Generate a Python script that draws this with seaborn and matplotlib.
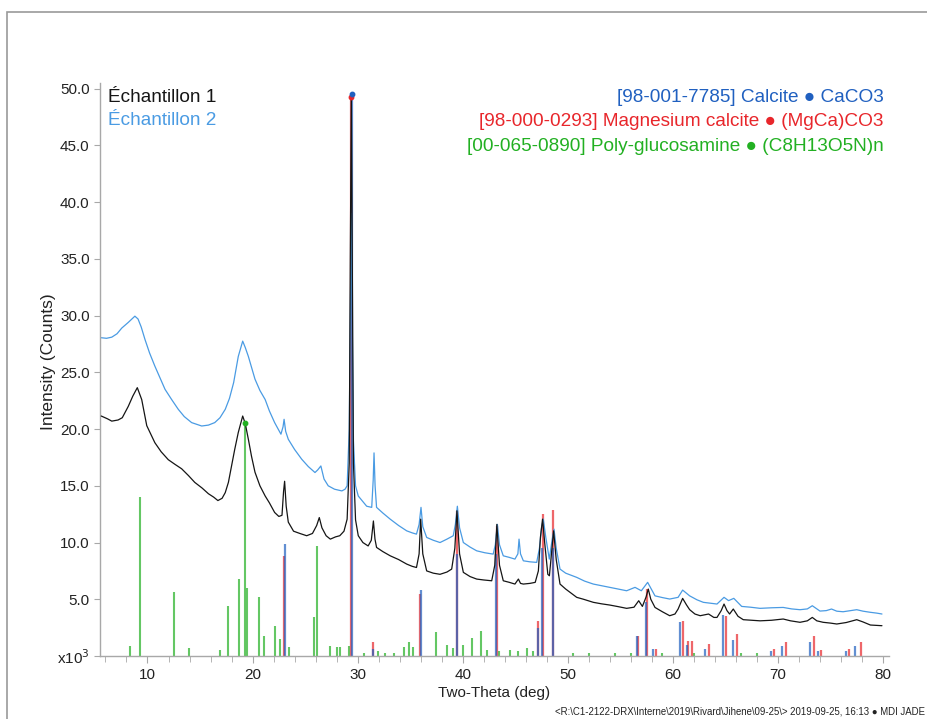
import matplotlib
matplotlib.use("Agg")
import matplotlib.pyplot as plt
import matplotlib.patches as patches
import seaborn as sns
import numpy as np
import pandas as pd

# ---------------- data ----------------
s1_theta = [5.6, 6.2, 6.6, 7.2, 7.6, 8.17, 8.6, 9.03, 9.45, 9.93, 10.7, 11.3, 11.98, 12.6, 13.25,
            13.9, 14.5, 15.2, 15.8, 16.3, 16.7, 17.1, 17.4, 17.7, 18.0, 18.3, 18.64, 18.9, 19.06,
            19.3, 19.6, 19.9, 20.23, 20.7, 21.2, 21.6, 22.1, 22.5, 22.8, 22.95, 23.05, 23.2, 23.4,
            23.9, 24.5, 25.15, 25.7, 26.1, 26.35, 26.6, 27.0, 27.4, 27.9, 28.3, 28.7, 29.0, 29.2,
            29.3, 29.4, 29.5, 29.6, 29.8, 30.06, 30.5, 31.0, 31.3, 31.5, 31.65, 31.8, 32.4, 33.1,
            33.9, 34.67, 35.2, 35.6, 35.85, 36.0, 36.2, 36.57, 37.2, 37.84, 38.5, 38.95, 39.25,
            39.45, 39.7, 40.06, 40.7, 41.33, 42.0, 42.76, 43.05, 43.25, 43.5, 43.86, 44.4, 44.97,
            45.3, 45.5, 45.77, 46.4, 46.9, 47.2, 47.4, 47.6, 47.8, 48.1, 48.25, 48.45, 48.65, 48.9,
            49.26, 49.8, 50.85, 51.5, 52.43, 53.2, 54.0, 54.8, 55.6, 56.3, 56.75, 57.1, 57.45,
            57.66, 57.9, 58.3, 59.0, 59.7, 60.2, 60.5, 60.93, 61.3, 61.6, 62.1, 62.6, 63.4, 63.9,
            64.2, 64.6, 64.87, 65.15, 65.4, 65.75, 66.2, 66.7, 67.5, 68.3, 69.4, 70.5, 71.2, 72.1,
            72.8, 73.27, 73.7, 74.3, 75.0, 75.6, 76.5, 77.5, 78.1, 78.8, 79.4, 79.9]
s1_counts = [21.15, 20.9, 20.7, 20.8, 21.0, 22.0, 22.9, 23.65, 22.6, 20.3, 18.8, 18.0, 17.3, 16.9,
             16.5, 15.9, 15.3, 14.8, 14.3, 14.0, 13.7, 13.9, 14.4, 15.3, 16.75, 18.2, 19.7, 20.6,
             21.15, 20.5, 19.1, 17.6, 16.2, 15.0, 14.1, 13.5, 12.65, 12.3, 12.4, 14.5, 15.4, 13.2,
             11.8, 11.0, 10.8, 10.6, 10.8, 11.5, 12.2, 11.3, 10.6, 10.3, 10.5, 10.6, 11.0, 12.06,
             17.0, 35.0, 49.3, 33.0, 17.0, 12.0, 10.6, 10.0, 9.7, 10.2, 11.9, 10.3, 9.57, 9.2,
             8.83, 8.5, 8.1, 7.9, 7.8, 9.0, 12.06, 9.0, 7.5, 7.3, 7.2, 7.4, 7.66, 9.5, 12.8, 9.0,
             7.37, 7.0, 6.78, 6.7, 6.63, 8.0, 11.6, 8.0, 6.63, 6.5, 6.34, 6.78, 6.4, 6.34, 6.4,
             6.49, 7.5, 10.5, 12.06, 10.0, 7.2, 7.07, 9.0, 11.03, 8.5, 6.34, 5.9, 5.17, 5.0, 4.73,
             4.6, 4.49, 4.35, 4.2, 4.3, 4.87, 4.37, 5.2, 5.9, 5.0, 4.28, 3.9, 3.55, 3.7, 4.14,
             5.08, 4.5, 4.08, 3.7, 3.55, 3.7, 3.4, 3.4, 4.0, 4.58, 4.0, 3.7, 4.14, 3.5, 3.2, 3.15,
             3.1, 3.15, 3.26, 3.1, 2.97, 3.1, 3.4, 3.1, 2.97, 2.9, 2.82, 2.95, 3.2, 3.0, 2.73,
             2.7, 2.67]

s2_theta = [5.6, 6.1, 6.6, 7.1, 7.55, 8.17, 8.8, 9.1, 9.4, 9.76, 10.2, 10.7, 11.2, 11.67, 12.3,
            12.93, 13.5, 14.2, 15.16, 15.8, 16.4, 16.9, 17.4, 17.8, 18.2, 18.64, 19.06, 19.3,
            19.6, 20.23, 20.7, 21.2, 21.6, 22.1, 22.7, 22.9, 23.0, 23.15, 23.4, 24.0, 24.68,
            25.3, 25.94, 26.2, 26.5, 26.8, 27.2, 27.8, 28.5, 28.8, 29.0, 29.2, 29.3, 29.4, 29.5,
            29.6, 29.8, 30.06, 30.5, 30.86, 31.34, 31.48, 31.56, 31.66, 31.8, 32.4, 33.1, 33.9,
            34.67, 35.2, 35.6, 35.85, 36.03, 36.2, 36.57, 37.2, 37.84, 38.5, 39.1, 39.3, 39.49,
            39.7, 40.06, 40.7, 41.33, 42.1, 42.9, 43.1, 43.3, 43.5, 43.86, 44.4, 44.97, 45.25,
            45.36, 45.5, 45.77, 46.4, 47.04, 47.3, 47.5, 47.67, 47.9, 48.24, 48.5, 48.69, 48.9,
            49.26, 49.8, 50.85, 51.6, 52.43, 53.2, 54.0, 54.8, 55.6, 56.4, 57.0, 57.6, 58.3, 59.0,
            59.7, 60.5, 60.93, 61.6, 62.3, 62.9, 63.6, 64.2, 64.87, 65.3, 65.8, 66.55, 67.4, 68.3,
            69.4, 70.5, 71.3, 72.1, 72.8, 73.27, 74.0, 74.6, 75.1, 75.6, 76.2, 76.9, 77.5, 78.1,
            78.8, 79.4, 79.9]
s2_counts = [28.05, 28.0, 28.1, 28.4, 28.9, 29.4, 29.95, 29.7, 29.0, 27.9, 26.7, 25.55, 24.5,
             23.5, 22.6, 21.74, 21.1, 20.57, 20.27, 20.35, 20.57, 21.0, 21.74, 22.7, 24.1, 26.4,
             27.75, 27.2, 26.4, 24.4, 23.4, 22.6, 21.6, 20.57, 19.55, 20.2, 20.86, 19.8, 19.1,
             18.2, 17.34, 16.7, 16.17, 16.4, 16.75, 15.6, 15.0, 14.7, 14.55, 14.7, 15.0, 20.0,
             30.0, 39.0, 28.0, 19.0, 15.0, 14.1, 13.6, 13.2, 13.1, 15.5, 17.9, 15.0, 13.1, 12.6,
             12.06, 11.5, 11.03, 10.85, 10.74, 11.6, 13.1, 11.4, 10.45, 10.2, 10.0, 10.3, 10.6,
             11.6, 13.2, 11.3, 10.0, 9.6, 9.27, 9.1, 8.98, 9.8, 11.6, 9.8, 8.83, 8.7, 8.54, 9.0,
             10.3, 9.0, 8.39, 8.3, 8.25, 9.5, 11.3, 12.06, 10.5, 8.54, 10.2, 11.18, 9.5, 7.66,
             7.3, 6.93, 6.6, 6.34, 6.2, 6.05, 5.9, 5.75, 6.05, 5.75, 6.49, 5.3, 5.15, 5.02, 5.17,
             5.81, 5.3, 4.95, 4.73, 4.65, 4.58, 5.17, 4.88, 5.08, 4.37, 4.3, 4.2, 4.25, 4.28,
             4.15, 4.08, 4.15, 4.43, 3.96, 4.0, 4.14, 3.95, 3.9, 4.0, 4.08, 3.95, 3.85, 3.78, 3.7]

calcite_pos = [23.1, 29.47, 31.5, 36.0, 39.45, 43.2, 47.15, 47.55, 48.55, 56.6, 57.45, 58.1,
               60.68, 61.35, 63.1, 64.75, 65.7, 69.3, 70.4, 73.05, 73.8, 76.5, 77.35]
calcite_int = [9.9, 49.5, 0.6, 5.8, 9.0, 9.0, 2.5, 9.5, 9.5, 1.8, 4.8, 0.6,
               3.0, 1.0, 0.6, 3.6, 1.4, 0.4, 0.9, 1.2, 0.4, 0.4, 0.9]

mgcalcite_pos = [22.95, 29.33, 31.43, 35.95, 39.42, 43.22, 47.2, 47.62, 48.62, 56.7, 57.57, 58.4,
                 60.93, 61.47, 61.8, 63.4, 65.03, 66.13, 69.65, 70.77, 73.43, 74.1, 76.8, 77.9]
mgcalcite_int = [8.8, 49.3, 1.2, 5.5, 12.8, 11.5, 3.1, 12.5, 12.9, 1.8, 5.9, 0.6,
                 3.1, 1.35, 1.35, 1.05, 3.55, 1.94, 0.6, 1.2, 1.73, 0.5, 0.6, 1.2]

chitosan_pos = [8.33, 9.28, 12.52, 13.98, 16.9, 17.63, 18.68, 19.28, 19.5, 20.58, 21.09, 22.13,
                22.6, 23.5, 25.87, 26.13, 27.37, 28.0, 28.35, 29.2, 30.6, 31.9, 32.6, 33.5,
                34.4, 34.9, 35.3, 37.46, 38.5, 39.1, 40.06, 40.86, 41.74, 42.3, 43.5, 44.5,
                45.3, 46.1, 46.7, 50.5, 52.0, 54.5, 56.0, 59.0, 62.0, 66.5, 68.0]
chitosan_int = [0.9, 14.0, 5.6, 0.7, 0.5, 4.4, 6.8, 20.5, 6.0, 5.17, 1.8, 2.67,
                1.5, 0.8, 3.4, 9.7, 0.9, 0.8, 0.8, 0.9, 0.3, 0.4, 0.3, 0.3,
                0.8, 1.2, 0.8, 2.1, 1.0, 0.7, 1.0, 1.6, 2.2, 0.5, 0.4, 0.5,
                0.4, 0.7, 0.4, 0.3, 0.3, 0.3, 0.3, 0.3, 0.3, 0.3, 0.3]

y_ticks = [0, 5, 10, 15, 20, 25, 30, 35, 40, 45, 50]
y_ticklabels = ["x10$^3$", "5.0", "10.0", "15.0", "20.0", "25.0", "30.0", "35.0", "40.0",
                "45.0", "50.0"]
x_ticks = [10, 20, 30, 40, 50, 60, 70, 80]

# ---------------- figure ----------------
sns.set_style("white")
plt.rcParams['font.family'] = ['Liberation Sans', 'DejaVu Sans']

fig = plt.figure(figsize=(9.28, 7.19), dpi=100)
ax = fig.add_axes([100 / 928, 1 - 656 / 719, 789 / 928, (656 - 83) / 719])

C_S1 = "#151515"
C_S2 = "#4a9be3"
C_CAL = "#2060c0"
C_MG = "#e8262b"
C_CHI = "#22b022"

ax.vlines(chitosan_pos, 0, chitosan_int, color=C_CHI, lw=1.5, alpha=0.7, zorder=1)
ax.vlines(mgcalcite_pos, 0, mgcalcite_int, color=C_MG, lw=1.6, alpha=0.7, zorder=1)
ax.vlines(calcite_pos, 0, calcite_int, color=C_CAL, lw=1.6, alpha=0.7, zorder=1)

df1 = pd.DataFrame({"theta": s1_theta, "counts": s1_counts})
df2 = pd.DataFrame({"theta": s2_theta, "counts": s2_counts})
sns.lineplot(data=df2, x="theta", y="counts", ax=ax, color=C_S2, lw=0.9, errorbar=None, zorder=2)
sns.lineplot(data=df1, x="theta", y="counts", ax=ax, color=C_S1, lw=0.9, errorbar=None, zorder=3)

# top markers
ax.plot([mgcalcite_pos[1]], [mgcalcite_int[1]], "o", color=C_MG, ms=3.2, zorder=4)
ax.plot([calcite_pos[1]], [calcite_int[1]], "o", color=C_CAL, ms=3.2, zorder=4)
ax.plot([chitosan_pos[7]], [chitosan_int[7]], "o", color=C_CHI, ms=3.2, zorder=4)

ax.set_xlim(5.48, 80.57)
ax.set_ylim(0, 50.5)
ax.set_xticks(x_ticks)
ax.set_xticks(np.arange(6, 81, 2), minor=True)
ax.set_yticks(y_ticks)
ax.set_yticklabels(y_ticklabels)
for s in ["top", "right"]:
    ax.spines[s].set_visible(False)
for s in ["left", "bottom"]:
    ax.spines[s].set_color("#a8a8a8")
    ax.spines[s].set_linewidth(1.0)
ax.tick_params(axis="both", which="both", direction="out", color="#a8a8a8",
               labelsize=11, labelcolor="#222222")
ax.tick_params(axis="x", which="major", length=5, bottom=True)
ax.tick_params(axis="x", which="minor", length=4, bottom=True)
ax.tick_params(axis="y", which="major", length=4, left=True)
ax.set_xlabel("Two-Theta (deg)", fontsize=11, color="#222222", labelpad=3)
ax.set_ylabel("Intensity (Counts)", fontsize=12.5, color="#222222", labelpad=1)
ax.yaxis.set_label_coords(-0.056, 0.513)

# legends as text
FS = 13.7
ax.text(0.010, 0.99, "Échantillon 1", transform=ax.transAxes, color=C_S1, fontsize=FS,
        va="top", ha="left")
ax.text(0.010, 0.950, "Échantillon 2", transform=ax.transAxes, color=C_S2, fontsize=FS,
        va="top", ha="left")
ax.text(0.993, 0.99, "[98-001-7785] Calcite \u25cf CaCO3", transform=ax.transAxes,
        color=C_CAL, fontsize=FS, va="top", ha="right")
ax.text(0.993, 0.947, "[98-000-0293] Magnesium calcite \u25cf (MgCa)CO3", transform=ax.transAxes,
        color=C_MG, fontsize=FS, va="top", ha="right")
ax.text(0.993, 0.904, "[00-065-0890] Poly-glucosamine \u25cf (C8H13O5N)n", transform=ax.transAxes,
        color=C_CHI, fontsize=FS, va="top", ha="right")

fig.text(925 / 928, 1 - 711 / 719,
         "<R:\\C1-2122-DRX\\Interne\\2019\\Rivard\\Jihene\\09-25\\> 2019-09-25, 16:13 \u25cf MDI JADE",
         fontsize=6.9, ha="right", va="center", color="#222222")

fig.patches.append(patches.Rectangle((7 / 928, -0.05), 1.2, 1.05 - 12 / 719,
                                     transform=fig.transFigure, fill=False,
                                     edgecolor="#9a9a9a", lw=1.2))

fig.savefig("out.png", dpi=100)
